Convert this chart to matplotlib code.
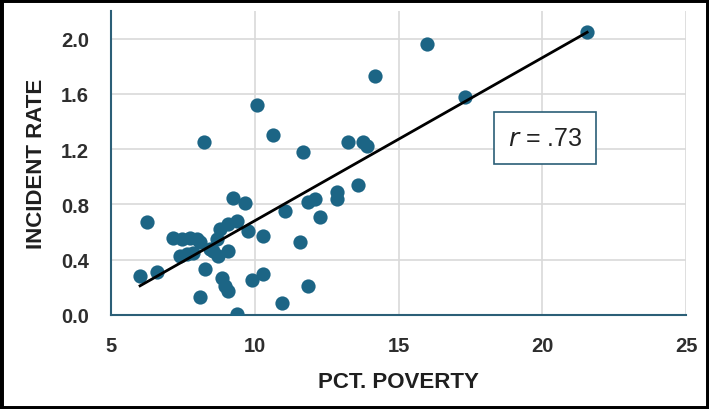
import numpy as np
import matplotlib.pyplot as plt
from matplotlib.patches import Rectangle

# poverty (%) vs incident rate, one point per area
pct_poverty = [21.56, 16.00, 14.18, 17.31, 10.08, 10.63, 8.23, 11.68, 13.25, 13.77,
               13.91, 13.59, 12.86, 12.86, 12.27, 12.09, 11.85, 11.05, 11.57, 11.85,
               10.95, 10.29, 9.90, 9.38, 9.07, 8.97, 8.86, 8.10, 8.27, 6.01,
               6.60, 6.25, 7.16, 7.47, 7.75, 8.00, 8.10, 7.40, 7.64, 7.85,
               8.55, 8.72, 9.07, 8.79, 9.07, 9.38, 9.24, 9.66, 9.76, 10.29,
               8.44, 8.69]
incident_rate = [2.05, 1.96, 1.73, 1.58, 1.52, 1.30, 1.25, 1.18, 1.25, 1.25,
                 1.22, 0.94, 0.89, 0.84, 0.71, 0.84, 0.82, 0.75, 0.53, 0.21,
                 0.09, 0.30, 0.25, 0.01, 0.17, 0.21, 0.27, 0.13, 0.33, 0.28,
                 0.31, 0.67, 0.56, 0.55, 0.56, 0.55, 0.53, 0.43, 0.44, 0.45,
                 0.46, 0.43, 0.46, 0.62, 0.66, 0.68, 0.85, 0.81, 0.61, 0.57,
                 0.48, 0.55]

# least-squares line as reported on the original chart
fit_slope = 0.118
fit_intercept = -0.498
r_value = ".73"

x_ticks = [5, 10, 15, 20, 25]
y_ticks = [0.0, 0.4, 0.8, 1.2, 1.6, 2.0]

dot_color = "#1c6585"
spine_color = "#2b5f77"

fig = plt.figure(figsize=(7.09, 4.10), dpi=100)
ax = fig.add_axes([0.1566, 0.2293, 0.8110, 0.7414])

ax.scatter(pct_poverty, incident_rate, s=105, color=dot_color, zorder=3, linewidths=0)

x_line = np.array([min(pct_poverty), max(pct_poverty)])
ax.plot(x_line, fit_intercept + fit_slope * x_line, color="black", lw=2, zorder=4)

ax.set_xlim(5, 25)
ax.set_ylim(0, 2.2)
ax.set_xticks(x_ticks)
ax.set_yticks(y_ticks)
ax.set_xticklabels([str(t) for t in x_ticks])
ax.set_yticklabels([f"{t:.1f}" for t in y_ticks])
ax.grid(True, color="#d9d9d9", lw=1.2, zorder=0)
ax.set_axisbelow(True)

for side in ["top", "right"]:
    ax.spines[side].set_visible(False)
for side in ["left", "bottom"]:
    ax.spines[side].set_color(spine_color)
    ax.spines[side].set_linewidth(1.5)

ax.tick_params(axis="y", length=0, pad=16, labelsize=14.5, labelcolor="#2e2e2e")
ax.tick_params(axis="x", length=0, pad=15, labelsize=14.5, labelcolor="#2e2e2e")
for lbl in ax.get_xticklabels() + ax.get_yticklabels():
    lbl.set_fontweight("bold")
    lbl.set_family(["Liberation Sans", "DejaVu Sans"])

label_font = dict(fontsize=16, fontweight="bold", color="#1f1f1f",
                  family=["Liberation Sans Narrow", "Liberation Sans", "DejaVu Sans"])
ax.set_xlabel("PCT. POVERTY", labelpad=12, **label_font)
ax.set_ylabel("INCIDENT RATE", labelpad=10, **label_font)

ax.text(20.1, 1.28, r"$\mathit{r}$ = " + r_value, fontsize=18, ha="center", va="center",
        color="#222222", family=["Liberation Sans", "DejaVu Sans"], zorder=5,
        bbox=dict(boxstyle="square,pad=0.55", facecolor="white",
                  edgecolor=spine_color, linewidth=1.2))

# frame around the whole picture
fig.patches.append(Rectangle((0, 0), 1, 1, transform=fig.transFigure, fill=False,
                             edgecolor="black", linewidth=5, zorder=10))

fig.savefig("out.png", dpi=100)
